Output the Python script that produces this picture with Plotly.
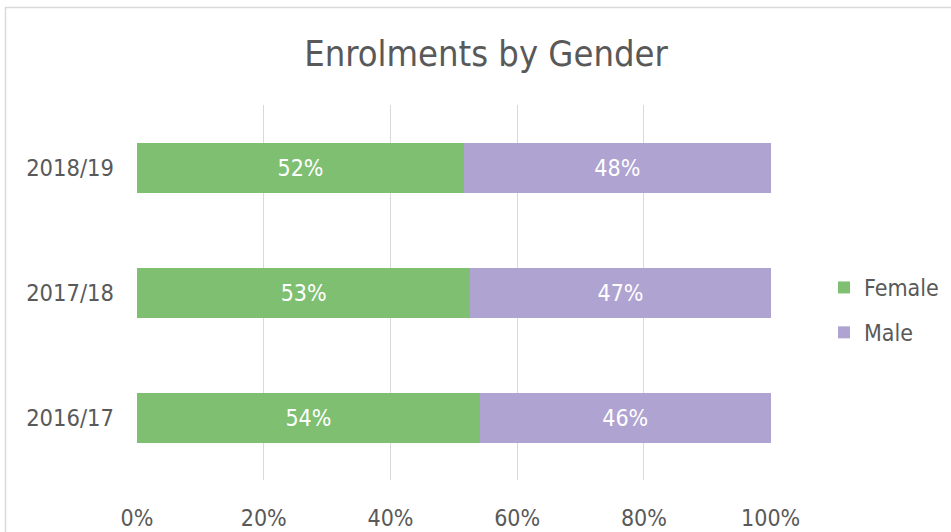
import plotly.graph_objects as go

years = ["2016/17", "2017/18", "2018/19"]
female = [0.541, 0.526, 0.516]
male = [0.459, 0.474, 0.484]
x_ticks = [0, 0.2, 0.4, 0.6, 0.8, 1.0]
x_tick_labels = ["0%", "20%", "40%", "60%", "80%", "100%"]

FONT = "DejaVu Sans Condensed, DejaVu Sans, sans-serif"
GRAY = "#595959"

fig = go.Figure()
fig.add_trace(go.Bar(
    y=years, x=female, name="Female", orientation="h",
    marker=dict(color="#7FBF72", line=dict(width=0)),
    texttemplate="%{x:.0%}", textposition="inside", insidetextanchor="middle",
    textfont=dict(color="white", size=23, family=FONT),
    legendgroup="f", width=0.4,
))
fig.add_trace(go.Bar(
    y=years, x=male, name="Male", orientation="h",
    marker=dict(color="#AFA3D2", line=dict(width=0)),
    texttemplate="%{x:.0%}", textposition="inside", insidetextanchor="middle",
    textfont=dict(color="white", size=23, family=FONT),
    legendgroup="m", width=0.4,
))

W, H = 951, 532
L, R, T, B = 137, 180, 105, 52
pw, ph = W - L - R, H - T - B

fig.update_layout(
    width=W, height=H, autosize=False,
    barmode="stack",
    margin=dict(l=L, r=R, t=T, b=B, autoexpand=False),
    paper_bgcolor="white", plot_bgcolor="white",
    font=dict(family=FONT, color=GRAY, size=23),
    title=dict(text="Enrolments by Gender", x=0.511, xanchor="center",
               y=1 - 53 / H, yanchor="middle",
               font=dict(size=36, color=GRAY, family=FONT)),
    xaxis=dict(range=[0, 1.0005], tickvals=x_ticks, ticktext=x_tick_labels,
               showgrid=True, gridcolor="#D9D9D9", gridwidth=1,
               zeroline=False, showline=False, ticks="", automargin=False,
               ticklabelstandoff=22, tickfont=dict(size=23, color=GRAY)),
    yaxis=dict(range=[-0.5, 2.5], showgrid=False, zeroline=False, showline=False,
               ticks="", automargin=False,
               ticklabelstandoff=22, tickfont=dict(size=23.5, color=GRAY)),
    legend=dict(x=(824 - L) / pw, xanchor="left", y=(H - B - 310) / ph, yanchor="middle",
                traceorder="grouped", tracegroupgap=12,
                font=dict(size=23, color=GRAY), bgcolor="rgba(0,0,0,0)"),
    showlegend=True,
    shapes=[dict(type="rect", xref="paper", yref="paper",
                 x0=(5.5 - L) / pw, x1=(W + 20 - L) / pw,
                 y0=-(B + 20) / ph, y1=(H - B - 7.5) / ph,
                 line=dict(color="#D9D9D9", width=1.5), layer="below")],
)

fig.write_html(
    "out.html",
    config={"responsive": False, "displayModeBar": False},
    post_script="document.body.style.margin='0px';document.body.style.overflow='hidden';",
)
